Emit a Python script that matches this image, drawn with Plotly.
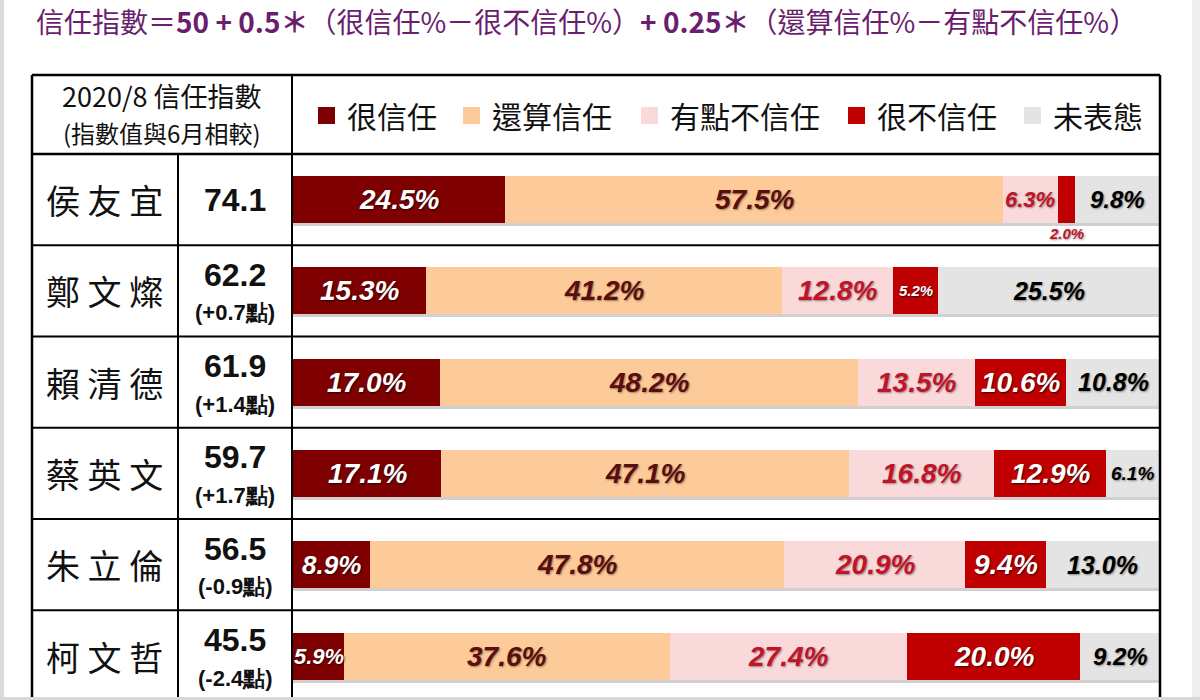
import plotly.graph_objects as go

# ---------------- data ----------------
names = ["侯友宜", "鄭文燦", "賴清德", "蔡英文", "朱立倫", "柯文哲"]
index_vals = [74.1, 62.2, 61.9, 59.7, 56.5, 45.5]
index_change = [None, 0.7, 1.4, 1.7, -0.9, -2.4]

categories = ["很信任", "還算信任", "有點不信任", "很不信任", "未表態"]
very_trust = [24.5, 15.3, 17.0, 17.1, 8.9, 5.9]
somewhat_trust = [57.5, 41.2, 48.2, 47.1, 47.8, 37.6]
somewhat_distrust = [6.3, 12.8, 13.5, 16.8, 20.9, 27.4]
very_distrust = [2.0, 5.2, 10.6, 12.9, 9.4, 20.0]
no_answer = [9.8, 25.5, 10.8, 6.1, 13.0, 9.2]

title_text = ("信任指數＝<b>50 + 0.5＊</b>（很信任%－很不信任%）"
              "<b>+ 0.25＊</b>（還算信任%－有點不信任%）")
header_line1 = "2020/8 信任指數"
header_line2 = "(指數值與6月相較)"

series = [very_trust, somewhat_trust, somewhat_distrust, very_distrust, no_answer]

# ---------------- style ----------------
bar_colors = ["#7F0000", "#FDCB99", "#F9D9D9", "#C00000", "#E4E4E4"]
label_colors = ["#FFFFFF", "#5A0E0E", "#C0142A", "#FFFFFF", "#000000"]
TITLE_COLOR = "#6A1E6E"
NUM_FONT = "Liberation Sans, Arial, sans-serif"
CJK = "Noto Sans CJK TC, Noto Sans CJK SC, sans-serif"
ARIAL = "Liberation Sans, Arial, sans-serif"

W, H = 1200, 700
ROW_PX = 91.3
ROW0_PX = 199.5
X0_PX, X1_PX = 293, 1159
y_top = -ROW0_PX / ROW_PX
y_bot = y_top + H / ROW_PX
BAR_W = 47 / ROW_PX


def px(x):
    return x / W


def py(y):
    return 1 - y / H


fig = go.Figure()
n = len(names)
ridx = list(range(n))

# cumulative bases
bases = []
acc = [0.0] * n
for s in series:
    bases.append(list(acc))
    acc = [a + v for a, v in zip(acc, s)]
totals = acc

# shadow beneath bars
fig.add_trace(go.Bar(
    y=ridx, x=[t + 0.3 for t in totals], base=[0] * n, orientation="h",
    width=BAR_W, offset=-BAR_W / 2 + 3 / ROW_PX,
    marker=dict(color="rgba(100,100,100,0.30)", line=dict(width=0)),
    hoverinfo="skip", showlegend=False))

for k, (cat, s) in enumerate(zip(categories, series)):
    fig.add_trace(go.Bar(
        y=ridx, x=s, base=bases[k], orientation="h", name=cat,
        width=BAR_W, marker=dict(color=bar_colors[k], line=dict(width=0)),
        showlegend=False, hovertemplate=cat + ": %{x}%<extra></extra>"))

annotations = []
shapes = []


def label_size(k, v):
    if v < 5.5:
        return 15
    if v < 6.2:
        return 19 if k == 4 else 22
    if v < 7:
        return 22
    if k == 4:
        return 24 if v < 10 else 25
    if v < 9:
        return 26
    return 28


# segment labels
for k, s in enumerate(series):
    for i in ridx:
        v = s[i]
        xc = bases[k][i] + v / 2
        size = label_size(k, v)
        yshift = 0
        color = label_colors[k]
        if v < 3:
            yshift, color = -34, "#C0142A"
        shadow = ("1px 1px 2px rgba(0,0,0,0.7)" if color == "#FFFFFF"
                  else "1px 1px 2px rgba(0,0,0,0.4)")
        annotations.append(dict(
            x=xc, y=i, xref="x", yref="y", text=f"<b><i>{v:.1f}%</i></b>",
            showarrow=False, yshift=yshift, xanchor="center", yanchor="middle",
            font=dict(family=NUM_FONT, size=size, color=color, shadow=shadow)))

# names and index values
for i in ridx:
    annotations.append(dict(
        x=px(104), y=i, xref="paper", yref="y", text=" ".join(names[i]),
        xanchor="center", yanchor="middle",
        showarrow=False, font=dict(family=CJK, size=34, color="#111111")))
    if index_change[i] is None:
        annotations.append(dict(
            x=px(235), y=i, xref="paper", yref="y", text=f"<b>{index_vals[i]:.1f}</b>",
            xanchor="center", yanchor="middle",
            showarrow=False, font=dict(family=ARIAL, size=32, color="#111111")))
    else:
        annotations.append(dict(
            x=px(235), y=i, xref="paper", yref="y", text=f"<b>{index_vals[i]:.1f}</b>",
            xanchor="center", yanchor="middle",
            showarrow=False, yshift=16, font=dict(family=ARIAL, size=32, color="#111111")))
        annotations.append(dict(
            x=px(235), y=i, xref="paper", yref="y",
            text=f"<b>({index_change[i]:+.1f}點)</b>",
            xanchor="center", yanchor="middle",
            showarrow=False, yshift=-22, font=dict(family=ARIAL, size=22, color="#111111")))

# title
annotations.append(dict(
    x=px(34), y=py(21), xref="paper", yref="paper", xanchor="left", yanchor="middle",
    text=title_text, showarrow=False,
    font=dict(family=CJK, size=28, color=TITLE_COLOR)))

# header
annotations.append(dict(
    x=px(162), y=py(96), xref="paper", yref="paper", text=header_line1, showarrow=False,
    xanchor="center", yanchor="middle",
    font=dict(family=CJK, size=27, color="#111111")))
annotations.append(dict(
    x=px(162), y=py(133), xref="paper", yref="paper", text=header_line2, showarrow=False,
    xanchor="center", yanchor="middle",
    font=dict(family=CJK, size=24, color="#111111")))

# legend (in header cell)
legend_sq_x = [318, 463, 641, 848, 1024]
for k, cat in enumerate(categories):
    x0 = legend_sq_x[k]
    shapes.append(dict(type="rect", xref="paper", yref="paper",
                       x0=px(x0), x1=px(x0 + 17), y0=py(124), y1=py(107),
                       fillcolor=bar_colors[k], line=dict(width=0)))
    annotations.append(dict(
        x=px(x0 + 27), y=py(115), xref="paper", yref="paper", xanchor="left",
        yanchor="middle",
        text=cat, showarrow=False, font=dict(family=CJK, size=30, color="#111111")))

# table lines
LC = "#000000"
shapes += [
    dict(type="line", xref="paper", yref="paper", x0=px(32), x1=px(1160), y0=py(75), y1=py(75),
         line=dict(color=LC, width=2.5)),
    dict(type="line", xref="paper", yref="paper", x0=px(32), x1=px(1160), y0=py(154), y1=py(154),
         line=dict(color=LC, width=2.5)),
    dict(type="line", xref="paper", yref="paper", x0=px(32), x1=px(32), y0=py(75), y1=0,
         line=dict(color=LC, width=2.5)),
    dict(type="line", xref="paper", yref="paper", x0=px(1160), x1=px(1160), y0=py(75), y1=0,
         line=dict(color=LC, width=2.5)),
    dict(type="line", xref="paper", yref="paper", x0=px(292), x1=px(292), y0=py(75), y1=0,
         line=dict(color=LC, width=2)),
    dict(type="line", xref="paper", yref="paper", x0=px(178), x1=px(178), y0=py(154), y1=0,
         line=dict(color=LC, width=2)),
]
for i in range(n - 1):
    shapes.append(dict(type="line", xref="paper", yref="y", x0=px(32), x1=px(1160),
                       y0=i + 0.5, y1=i + 0.5, line=dict(color=LC, width=2)))

# page edge strips (screenshot frame)
shapes += [
    dict(type="rect", xref="paper", yref="paper", x0=0, x1=px(4), y0=0, y1=1,
         fillcolor="#DCDCDC", line=dict(width=0), layer="below"),
    dict(type="rect", xref="paper", yref="paper", x0=px(1192), x1=1, y0=0, y1=1,
         fillcolor="#EEEEEE", line=dict(width=0), layer="below"),
    dict(type="rect", xref="paper", yref="paper", x0=0, x1=1, y0=0, y1=py(697),
         fillcolor="#D8D8D8", line=dict(width=0)),
]

fig.update_layout(
    width=W, height=H, margin=dict(l=0, r=0, t=0, b=0),
    paper_bgcolor="white", plot_bgcolor="rgba(0,0,0,0)",
    barmode="overlay", bargap=0,
    xaxis=dict(domain=[px(X0_PX), px(X1_PX)], range=[0, 100], visible=False, fixedrange=True),
    yaxis=dict(domain=[0, 1], range=[y_bot, y_top], visible=False, fixedrange=True),
    annotations=annotations, shapes=shapes, showlegend=False,
)

fig.write_html(
    "out.html",
    config={"displayModeBar": False},
    post_script="document.body.style.margin='0';document.body.style.padding='0';"
                "document.body.style.overflow='hidden';",
)
